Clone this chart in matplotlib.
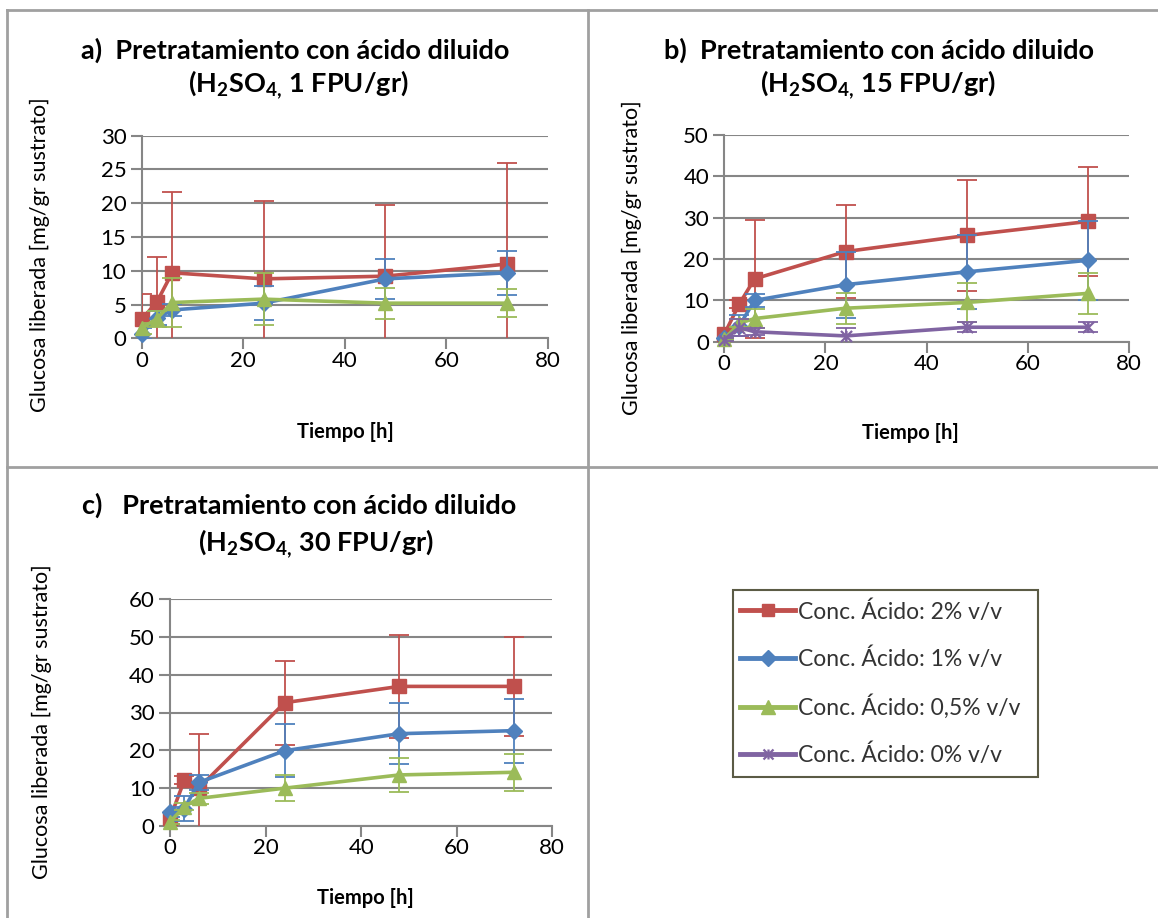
import matplotlib
matplotlib.use("Agg")
import matplotlib.pyplot as plt
from matplotlib.lines import Line2D
from matplotlib.patches import Rectangle
from matplotlib.path import Path
import numpy as np

# ---------------- data ----------------
tiempo = [0, 3, 6, 24, 48, 72]

# panel a (1 FPU/gr)
a_2 = [2.8, 5.4, 9.7, 8.8, 9.2, 11.0]
a_2_err = [3.7, 6.7, 12.0, 11.6, 10.6, 15.0]
a_1 = [0.7, 3.0, 4.2, 5.2, 8.8, 9.7]
a_1_err = [0.8, 1.0, 0.9, 2.5, 3.0, 3.3]
a_05 = [1.5, 2.9, 5.3, 5.8, 5.2, 5.2]
a_05_err = [0.8, 1.2, 3.6, 3.9, 2.3, 2.1]

# panel b (15 FPU/gr)
b_2 = [1.8, 9.2, 15.2, 21.8, 25.7, 29.1]
b_2_err = [0.5, 1.0, 14.2, 11.2, 13.4, 13.1]
b_1 = [0.8, 3.9, 10.0, 13.8, 16.9, 19.7]
b_1_err = [0.5, 2.5, 1.6, 8.0, 9.0, 9.5]
b_05 = [0.6, 4.5, 5.6, 8.1, 9.5, 11.7]
b_05_err = [0.3, 1.0, 2.3, 3.7, 4.7, 4.9]
b_0 = [0.5, 3.4, 2.4, 1.4, 3.5, 3.5]
b_0_err = [0.3, 2.0, 0.8, 2.0, 1.2, 1.2]

# panel c (30 FPU/gr)
c_2 = [2.0, 12.1, 10.0, 32.6, 36.9, 36.9]
c_2_err = [1.5, 1.0, 14.3, 11.1, 13.6, 13.0]
c_1 = [3.8, 4.6, 11.5, 19.9, 24.4, 25.2]
c_1_err = [1.3, 3.2, 2.0, 7.0, 8.1, 8.5]
c_05 = [1.1, 5.1, 7.3, 10.0, 13.5, 14.2]
c_05_err = [0.5, 1.0, 1.5, 3.5, 4.6, 4.9]

labels = ["Conc. Ácido: 2% v/v", "Conc. Ácido: 1% v/v",
          "Conc. Ácido: 0,5% v/v", "Conc. Ácido: 0% v/v"]
titles = [("a)  Pretratamiento con ácido diluido", r"(H$_{2}$SO$_{4,}\,$1 FPU/gr)"),
          ("b)  Pretratamiento con ácido diluido", r"(H$_{2}$SO$_{4,}\,$15 FPU/gr)"),
          ("c)   Pretratamiento con ácido diluido", r"(H$_{2}$SO$_{4,}\,$30 FPU/gr)")]
ylabel = "Glucosa liberada [mg/gr sustrato]"
xlabel = "Tiempo [h]"

# ---------------- style ----------------
plt.rcParams['font.family'] = ['Lato', 'DejaVu Sans']
plt.rcParams['mathtext.fontset'] = 'custom'
plt.rcParams['mathtext.rm'] = 'Lato:bold'
plt.rcParams['mathtext.bf'] = 'Lato:bold'
plt.rcParams['mathtext.it'] = 'Lato:bold'
plt.rcParams['mathtext.default'] = 'rm'

RED = '#C0504D'
BLUE = '#4F81BD'
GREEN = '#9BBB59'
PURPLE = '#8064A2'
GRID = '#868686'

star = Path([(-1, -1), (1, 1), (-1, 1), (1, -1), (0, -1), (0, 1)],
            [Path.MOVETO, Path.LINETO, Path.MOVETO, Path.LINETO, Path.MOVETO, Path.LINETO])

styles = {
    '2': dict(color=RED, marker='s', ms=9.5, mec=RED, mfc=RED),
    '1': dict(color=BLUE, marker='D', ms=8.5, mec=BLUE, mfc=BLUE),
    '05': dict(color=GREEN, marker='^', ms=10.5, mec=GREEN, mfc=GREEN),
    '0': dict(color=PURPLE, marker=star, ms=8, mec=PURPLE, mfc='none', mew=1.6),
}

W, H = 1158, 918
fig = plt.figure(figsize=(W / 100, H / 100), dpi=100)


def add_ax(left, right, top, bottom):
    return fig.add_axes([left / W, 1 - bottom / H, (right - left) / W, (bottom - top) / H])


def draw_panel(ax, series, ymax, ystep):
    ax.set_xlim(0, 80)
    ax.set_ylim(0, ymax)
    ax.set_xticks(np.arange(0, 81, 20))
    ax.set_yticks(np.arange(0, ymax + 0.1, ystep))
    ax.yaxis.grid(True, color=GRID, lw=1.5)
    ax.set_axisbelow(True)
    for s in ['top', 'right']:
        ax.spines[s].set_visible(False)
    for s in ['left', 'bottom']:
        ax.spines[s].set_color(GRID)
        ax.spines[s].set_linewidth(1.5)
    ax.tick_params(axis='both', colors=GRID, length=8, width=1.5, labelsize=16,
                   labelcolor='black')
    ax.tick_params(axis='x', pad=1)
    ax.tick_params(axis='y', pad=3)
    z = 3
    for key, vals, errs in series:
        st = styles[key]
        ax.errorbar(tiempo, vals, yerr=errs, fmt='none', ecolor=st['color'],
                    elinewidth=1.3, capsize=7.5, capthick=1.3, zorder=z)
        ax.plot(tiempo, vals, color=st['color'], lw=2.6, marker=st['marker'],
                ms=st['ms'], mec=st['mec'], mfc=st['mfc'], mew=st.get('mew', 1),
                clip_on=False, zorder=z + 0.5)
        z += 1


# panel a
axa = add_ax(141.7, 547.7, 135.7, 338.3)
draw_panel(axa, [('2', a_2, a_2_err), ('1', a_1, a_1_err), ('05', a_05, a_05_err)], 30, 5)
# panel b
axb = add_ax(724.3, 1128.7, 135.0, 341.7)
draw_panel(axb, [('2', b_2, b_2_err), ('1', b_1, b_1_err), ('05', b_05, b_05_err),
                 ('0', b_0, b_0_err)], 50, 10)
# panel c
axc = add_ax(170, 552.3, 599, 826)
draw_panel(axc, [('2', c_2, c_2_err), ('1', c_1, c_1_err), ('05', c_05, c_05_err)], 60, 10)


def ftext(x, y, s, **kw):
    fig.text(x / W, 1 - y / H, s, **kw)


TFS = 19.5
# titles
ftext(295, 50, titles[0][0], fontsize=TFS, fontweight='bold', ha='center', va='center')
ftext(298, 85, titles[0][1], fontsize=TFS, fontweight='bold', ha='center', va='center')
ftext(879, 50, titles[1][0], fontsize=TFS, fontweight='bold', ha='center', va='center')
ftext(878, 85, titles[1][1], fontsize=TFS, fontweight='bold', ha='center', va='center')
ftext(299, 505, titles[2][0], fontsize=TFS, fontweight='bold', ha='center', va='center')
ftext(316, 544, titles[2][1], fontsize=TFS, fontweight='bold', ha='center', va='center')

# axis labels
XFS = 14.5
ftext(345, 432, xlabel, fontsize=XFS, fontweight='bold', ha='center', va='center')
ftext(910, 433, xlabel, fontsize=XFS, fontweight='bold', ha='center', va='center')
ftext(365, 898, xlabel, fontsize=XFS, fontweight='bold', ha='center', va='center')
YFS = 15.5
ftext(40, 255, ylabel, fontsize=YFS, rotation=90, ha='center', va='center')
ftext(632, 258, ylabel, fontsize=YFS, rotation=90, ha='center', va='center')
ftext(42, 722, ylabel, fontsize=YFS, rotation=90, ha='center', va='center')

# legend (frame drawn separately)
fig.add_artist(Rectangle((733 / W, 1 - 777 / H), (1038 - 733) / W, (777 - 590) / H,
                         transform=fig.transFigure, facecolor='white',
                         edgecolor='#5B5B45', lw=1.5, zorder=1))
handles = []
for key, lab in zip(['2', '1', '05', '0'], labels):
    st = styles[key]
    handles.append(Line2D([], [], color=st['color'], lw=3.5, marker=st['marker'],
                          ms=st['ms'] * 0.9, mec=st['mec'], mfc=st['mfc'],
                          mew=st.get('mew', 1), label=lab))
leg = fig.legend(handles=handles, loc='upper left',
                 bbox_to_anchor=(740 / W, 1 - 600 / H), fontsize=16.5,
                 frameon=False, handlelength=2.4, handletextpad=0.13,
                 labelspacing=1.08, borderpad=0, borderaxespad=0)
leg.set_zorder(2)
for t in leg.get_texts():
    t.set_color('#333333')

# table borders
BC = '#A0A0A0'
for (x0, y0, x1, y1) in [(7, 10, W, 10), (7, 10, 7, H), (588, 10, 588, H), (7, 467, W, 467)]:
    fig.add_artist(Line2D([x0 / W, x1 / W], [1 - y0 / H, 1 - y1 / H],
                          transform=fig.transFigure, color=BC, lw=2))

fig.savefig('out.png', dpi=100)
